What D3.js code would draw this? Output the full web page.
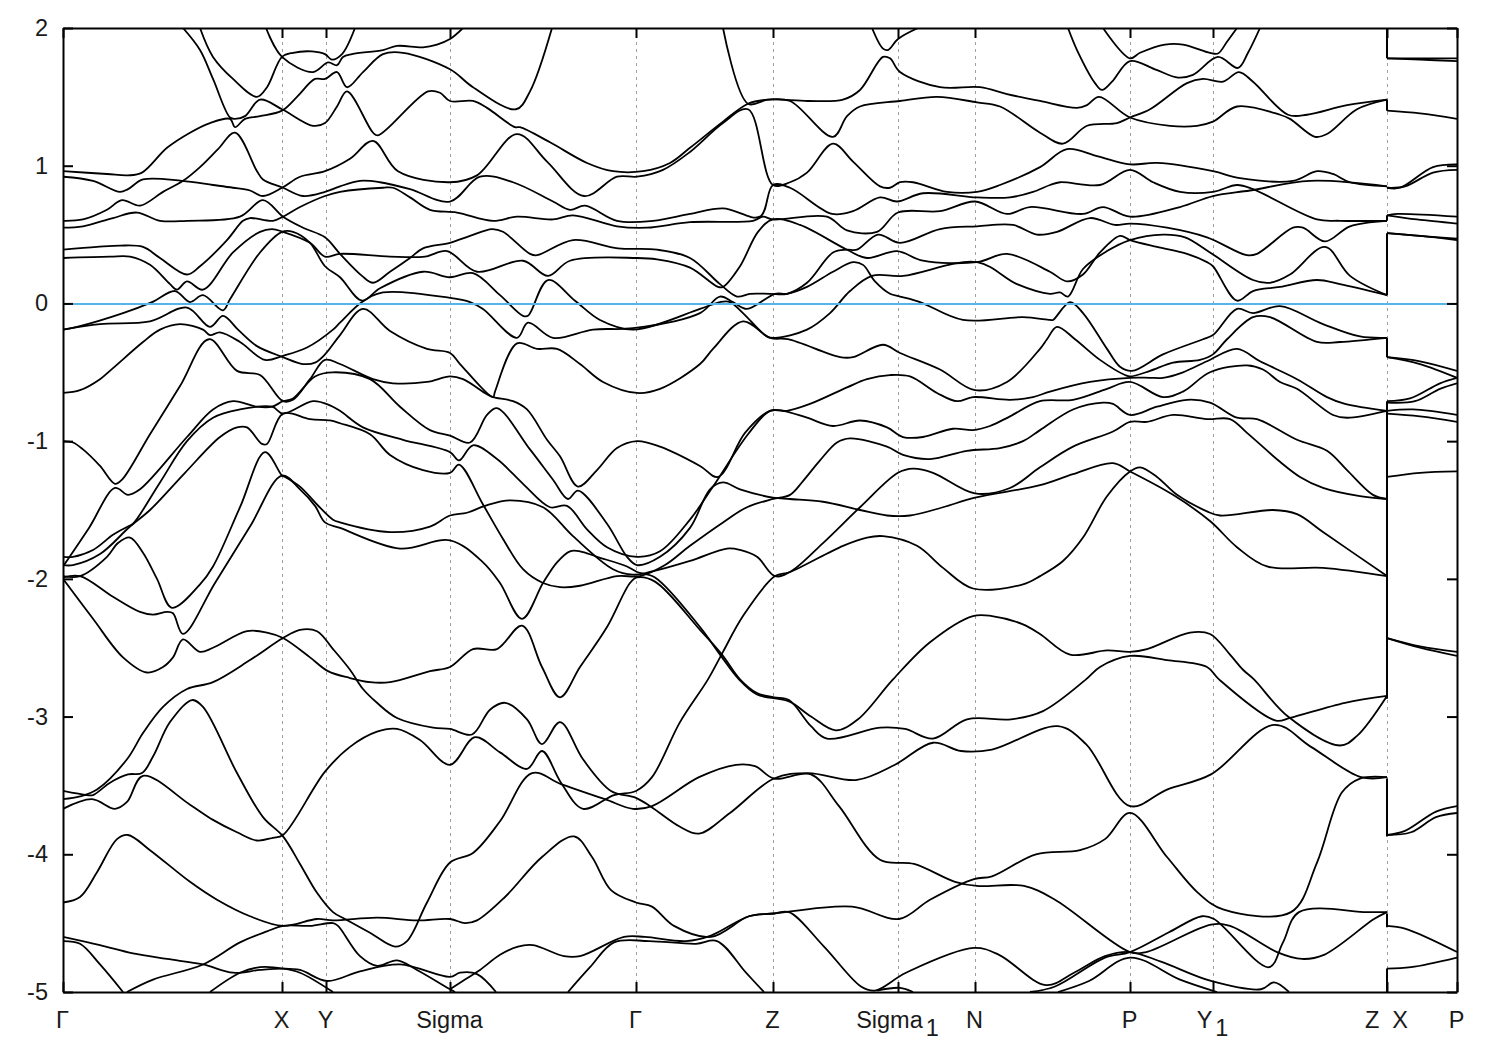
<!DOCTYPE html>
<html><head><meta charset="utf-8">
<script src="https://cdn.jsdelivr.net/npm/d3@7"></script>
<style>html,body{margin:0;padding:0;background:#fff}svg{display:block}text{font-family:"Liberation Sans",Arial,sans-serif;fill:#1a1a1a}</style>
</head><body><div id="c"></div>
<script>
// path coordinate (k) and energy (E) of every band strand
const symK=[63,282,326,450,636,773,898,975,1130,1213,1387,1457];
const xTickLabels=["Γ","X","Y","Sigma","Γ","Z","Sigma","N","P","Y","Z\u00a0\u00a0X","P"];
const xTickSubs=["","","","","","","1","","","1","",""];
const yTicks=[-5,-4,-3,-2,-1,0,1,2];
const fermiLevel=0;
// energies on each side of the vertical steps at the last Z / X point
const zStepK=1387;
const zSteps=[[2,1.78],[1.48,1.40],[0.60,0.64],[0.51,0.06],[-0.25,-0.39],[-0.71,-2.87],[-3.45,-3.87],[-4.43,-4.53],[-4.83,-5]];

const b01=[[183,2],[200,1.84],[213,1.63],[230,1.35],[235,1.34],[245,1.36],[260,1.48],[282,1.41],[313,1.29],[325,1.31],[337,1.43],[347,1.54],[373,1.24],[378,1.22],[428,1.54],[440,1.53],[450,1.47],[473,1.47],[487,1.42],[515,1.28],[520,1.28],[550,1.17],[587,1.02],[613,.96],[643,.96],[670,1.02],[690,1.13],[723,1.32],[748,1.45],[768,1.48],[808,1.47],[843,1.48],[860,1.55],[883,1.79],[890,1.78],[900,1.68],[940,1.57],[980,1.57],[1007,1.52],[1040,1.47],[1077,1.42],[1087,1.44],[1099,1.5],[1130,1.35],[1170,1.29],[1197,1.29],[1213,1.32],[1237,1.43],[1280,1.37],[1290,1.34],[1315,1.21],[1327,1.23],[1357,1.41],[1387,1.48]];
const b02=[[200,2],[213,1.79],[233,1.63],[257,1.5],[267,1.57],[282,1.79],[293,1.82],[312,1.83],[325,1.81],[332,1.77],[342,1.81],[355,2]];
const b03=[[266,2],[282,1.79],[313,1.68],[328,1.75],[337,1.73],[343,1.79],[352,1.81],[383,1.84],[397,1.87],[423,1.86],[437,1.88],[450,1.92],[463,2]];
const b04=[[63,.96],[107,.94],[128,.93],[142,.95],[167,1.13],[190,1.24],[210,1.31],[230,1.34],[235,1.28],[245,1.34],[260,1.36],[282,1.4],[297,1.5],[315,1.63],[325,1.63],[337,1.68],[347,1.57],[363,1.68],[383,1.81],[403,1.82],[450,1.7],[473,1.57],[516,1.41],[530,1.54],[552,2]];
const b05=[[63,.92],[93,.89],[120,.81],[128,.83],[143,.9],[182,.89],[213,.86],[233,.84],[250,.82],[263,.78],[282,.84],[300,.92],[325,.96],[350,1.05],[373,1.18],[398,.96],[450,.88],[477,.93],[517,1.23],[547,1.03],[584,.78],[617,.92],[637,.92],[663,.97],[690,1.1],[723,1.31],[748,1.41],[773,.86],[790,.88],[807,.95],[833,1.16],[853,1.03],[880,.85],[890,.84],[900,.88],[913,.88],[947,.81],[977,.81],[1000,.86],[1040,.99],[1067,1.12],[1097,1.07],[1130,1.01],[1157,1.02],[1213,.96],[1240,.91],[1293,.89],[1317,.96],[1333,.94],[1350,.88],[1387,.85]];
const b06=[[723,2],[748,1.45],[768,1.48],[790,1.47],[833,1.21],[847,1.36],[860,1.43],[900,1.47],[937,1.5],[977,1.46],[1000,1.43],[1040,1.24],[1063,1.16],[1087,1.29],[1117,1.31],[1130,1.35],[1150,1.41],[1187,1.6],[1203,1.63],[1223,1.61],[1239,1.68],[1253,1.61],[1288,1.37],[1307,1.37],[1347,1.44],[1387,1.48]];
const b07=[[1068,2],[1077,1.84],[1095,1.6],[1102,1.55],[1112,1.61],[1130,1.76],[1155,1.7],[1178,1.64],[1193,1.66],[1218,1.79],[1238,1.71],[1248,1.82],[1260,2]];
const b08=[[1103,2],[1130,1.78],[1140,1.82],[1165,1.88],[1183,1.88],[1210,1.82],[1218,1.815],[1227,1.9],[1237,2]];
const b09=[[872,2],[883,1.85],[888,1.84],[898,1.92],[918,2]];
const b10=[[63,.6],[83,.61],[107,.68],[122,.75],[140,.71],[163,.81],[183,.89],[200,.99],[218,1.12],[235,1.24],[257,.96],[263,.9],[283,.84],[303,.78],[325,.81],[340,.85],[360,.89],[380,.88],[410,.83],[450,.74],[480,.92],[513,.88],[553,.74],[570,.68],[585,.71],[617,.6],[653,.6],[690,.65],[723,.69],[760,.63],[773,.86],[790,.84],[832,.65],[853,.67],[880,.77],[897,.74],[923,.8],[977,.77],[1010,.77],[1033,.81],[1050,.86],[1060,.88],[1100,.86],[1130,.97],[1153,.88],[1180,.81],[1213,.81],[1237,.86],[1253,.83],[1317,.61],[1340,.6],[1387,.6]];
const b11=[[63,.39],[97,.41],[120,.42],[143,.41],[160,.33],[187,.21],[200,.27],[227,.46],[243,.6],[250,.62],[273,.6],[283,.63],[300,.7],[325,.78],[340,.81],[383,.84],[393,.84],[410,.77],[430,.68],[457,.66],[493,.6],[517,.63],[553,.61],[573,.64],[617,.56],[647,.55],[690,.59],[753,.6],[763,.63],[773,.61],[827,.63],[847,.53],[877,.52],[898,.66],[940,.67],[975,.74],[1007,.65],[1030,.7],[1083,.65],[1103,.7],[1130,.63],[1180,.7],[1213,.78],[1250,.82],[1310,.89],[1387,.85]];
const b12=[[63,.55],[83,.56],[113,.62],[137,.66],[160,.6],[187,.6],[240,.63],[263,.75],[283,.63],[303,.55],[325,.48],[340,.36],[362,.2],[373,.15],[390,.23],[410,.33],[423,.4],[450,.44],[470,.49],[492,.54],[503,.52],[530,.36],[537,.35],[573,.46],[618,.4],[657,.39],[690,.33],[720,.14],[737,.05],[750,.07],[770,.07],[787,.07],[807,.15],[833,.37],[847,.39],[857,.39],[878,.5],[900,.44],[940,.54],[977,.56],[1013,.57],[1037,.5],[1057,.52],[1090,.62],[1115,.57],[1130,.58],[1167,.55],[1207,.48],[1247,.35],[1257,.36],[1293,.55],[1303,.55],[1325,.45],[1350,.56],[1387,.6]];
const b13=[[63,.33],[110,.34],[130,.34],[150,.28],[170,.14],[177,.1],[187,.16],[203,.1],[233,.37],[260,.52],[272,.54],[283,.52],[310,.44],[325,.34],[340,.36],[390,.34],[425,.34],[447,.38],[477,.23],[523,.31],[548,.2],[570,.31],[637,.33],[657,.32],[690,.26],[718,.12],[723,.12],[740,.27],[758,.52],[773,.61],[800,.57],[847,.39],[867,.33],[897,.38],[923,.31],[977,.3],[1007,.36],[1050,.23],[1067,.16],[1083,.21],[1100,.37],[1120,.49],[1130,.46],[1157,.41],[1187,.36],[1207,.3],[1213,.27],[1237,.02],[1253,.09],[1280,.12],[1317,.17],[1340,.14],[1387,.06]];
const b14=[[63,-.19],[77,-.17],[123,-.07],[152,.01],[175,.09],[190,.01],[203,.06],[223,-.05],[230,.03],[260,.37],[282,.52],[293,.52],[310,.44],[325,.27],[340,.19],[362,.02],[380,.11],[423,.23],[450,.19],[473,.22],[500,.06],[523,-.09],[528,-.09],[548,.17],[575,.02],[600,-.12],[633,-.19],[700,-.04],[720,.01],[730,.01],[743,-.07],[767,-.24],[775,-.25],[807,-.19],[830,-.07],[850,.09],[872,.2],[903,.2],[977,.3],[1017,.14],[1050,.07],[1060,.08],[1068,.05],[1083,.25],[1107,.38],[1130,.46],[1163,.5],[1185,.48],[1210,.37],[1253,.17],[1270,.15],[1290,.21],[1325,.41],[1350,.2],[1387,.06]];
const b15=[[63,-.65],[80,-.63],[100,-.55],[113,-.47],[143,-.28],[160,-.19],[180,-.15],[203,-.19],[210,-.23],[220,-.21],[240,-.28],[265,-.41],[283,-.38],[307,-.32],[333,-.19],[340,-.14],[362,.01],[383,.08],[450,.04],[470,.01],[483,-.04],[517,-.25],[528,-.14],[553,-.25],[593,-.19],[633,-.18],[700,-.07],[720,.05],[733,.01],[747,-.04],[775,.07],[787,.07],[807,.12],[833,.23],[853,.3],[863,.28],[875,.16],[890,.07],[900,.05],[920,.01],[963,-.12],[1023,-.1],[1050,-.12],[1053,-.12],[1070,.01],[1083,-.07],[1107,-.33],[1120,-.46],[1132,-.49],[1163,-.37],[1203,-.26],[1213,-.23],[1237,-.04],[1253,-.07],[1280,-.02],[1323,-.15],[1360,-.24],[1387,-.25]];
const b16=[[63,-.19],[100,-.15],[150,-.13],[187,-.03],[210,-.17],[223,-.09],[238,-.19],[257,-.31],[283,-.39],[303,-.44],[315,-.43],[325,-.37],[340,-.23],[363,-.04],[390,-.2],[427,-.33],[450,-.36],[460,-.44],[493,-.68],[495,-.64],[517,-.29],[537,-.33],[557,-.33],[580,-.44],[603,-.57],[637,-.65],[660,-.62],[700,-.44],[713,-.33],[743,-.13],[770,-.25],[788,-.26],[840,-.39],[853,-.39],[883,-.3],[900,-.36],[940,-.48],[975,-.63],[1007,-.57],[1040,-.33],[1047,-.26],[1057,-.17],[1075,-.26],[1100,-.41],[1125,-.52],[1130,-.53],[1150,-.49],[1173,-.43],[1200,-.41],[1213,-.37],[1227,-.26],[1253,-.1],[1270,-.1],[1317,-.28],[1340,-.28],[1387,-.25]];
const b17=[[63,-1],[73,-1.01],[83,-1.06],[100,-1.18],[115,-1.31],[122,-1.28],[150,-.95],[180,-.6],[209,-.26],[237,-.49],[260,-.52],[283,-.71],[293,-.7],[310,-.55],[325,-.41],[340,-.44],[373,-.55],[393,-.58],[427,-.57],[450,-.53],[463,-.55],[487,-.66],[493,-.68],[513,-.71],[527,-.77],[547,-.99],[560,-1.11],[578,-1.33],[597,-1.21],[617,-1.05],[637,-1],[660,-1.04],[700,-1.18],[718,-1.26],[745,-.94],[770,-.78],[783,-.78],[807,-.83],[833,-.89],[860,-.85],[887,-.9],[903,-.97],[923,-.97],[953,-.91],[973,-.92],[990,-.89],[1010,-.82],[1040,-.71],[1073,-.7],[1107,-.62],[1130,-.57],[1163,-.68],[1183,-.64],[1210,-.5],[1247,-.45],[1263,-.48],[1280,-.57],[1297,-.62],[1333,-.81],[1347,-.83],[1387,-.78]];
const b18=[[63,-1.91],[89,-1.63],[115,-1.34],[128,-1.39],[140,-1.35],[187,-.97],[213,-.77],[233,-.71],[257,-.75],[272,-.75],[283,-.71],[293,-.69],[315,-.53],[333,-.5],[370,-.55],[400,-.75],[430,-.92],[450,-.96],[470,-1.01],[487,-.81],[497,-.76],[530,-1.06],[553,-1.28],[568,-1.42],[578,-1.36],[607,-1.6],[627,-1.84],[637,-1.9],[660,-1.84],[690,-1.63],[710,-1.35],[723,-1.3],[740,-1.35],[773,-1.41],[790,-1.42],[823,-1.44],[860,-1.5],[887,-1.54],[910,-1.54],[943,-1.48],[975,-1.41],[1040,-1.32],[1073,-1.24],[1113,-1.16],[1130,-1.22],[1173,-1.39],[1210,-1.58],[1237,-1.77],[1267,-1.91],[1323,-1.92],[1387,-1.98]];
const b19=[[63,-1.84],[73,-1.84],[93,-1.79],[113,-1.68],[128,-1.62],[133,-1.6],[160,-1.3],[187,-1],[213,-.83],[240,-.77],[272,-.75],[283,-.8],[313,-.71],[330,-.74],[340,-.78],[363,-.9],[403,-.99],[450,-1.08],[459,-1.14],[473,-1.03],[497,-1.13],[523,-1.31],[550,-1.48],[567,-1.47],[587,-1.64],[607,-1.77],[637,-1.84],[660,-1.8],[690,-1.57],[713,-1.33],[748,-.95],[770,-.78],[787,-.78],[810,-.73],[847,-.61],[867,-.55],[890,-.52],[910,-.53],[937,-.65],[957,-.71],[973,-.68],[1010,-.7],[1033,-.68],[1050,-.64],[1090,-.57],[1130,-.54],[1150,-.54],[1163,-.54],[1183,-.5],[1207,-.42],[1237,-.33],[1260,-.42],[1297,-.55],[1327,-.68],[1345,-.73],[1387,-.78]];
const b20=[[63,-1.9],[73,-1.9],[100,-1.82],[130,-1.62],[150,-1.5],[185,-1.23],[220,-.97],[237,-.9],[247,-.9],[262,-1.02],[267,-1.02],[283,-.8],[310,-.84],[330,-.85],[340,-.87],[370,-.95],[390,-1.1],[423,-1.21],[450,-1.23],[459,-1.17],[483,-1.46],[503,-1.71],[523,-1.93],[543,-2.03],[560,-2.06],[580,-2.05],[617,-1.98],[640,-1.98],[665,-1.9],[690,-1.76],[723,-1.59],[747,-1.48],[773,-1.42],[790,-1.39],[803,-1.29],[820,-1.14],[837,-1.01],[850,-.98],[887,-1.04],[903,-1.1],[930,-1.13],[967,-1.07],[1000,-1.05],[1023,-1],[1040,-.92],[1073,-.77],[1103,-.72],[1113,-.73],[1130,-.81],[1157,-.75],[1187,-.7],[1210,-.72],[1237,-.83],[1257,-.84],[1297,-.99],[1327,-1.07],[1347,-1.21],[1373,-1.39],[1387,-1.42]];
const b21=[[63,-1.98],[80,-1.98],[107,-1.84],[118,-1.74],[130,-1.7],[143,-1.81],[157,-2],[172,-2.21],[200,-2.04],[213,-1.91],[240,-1.48],[265,-1.08],[282,-1.25],[285,-1.26],[300,-1.33],[317,-1.46],[333,-1.57],[340,-1.59],[390,-1.66],[430,-1.62],[450,-1.54],[467,-1.52],[485,-1.47],[510,-1.43],[543,-1.48],[573,-1.69],[613,-1.93],[633,-1.97],[650,-1.95],[690,-1.87],[727,-1.78],[740,-1.79],[757,-1.84],[775,-1.98],[790,-1.95],[823,-1.74],[860,-1.48],[898,-1.23],[913,-1.2],[933,-1.23],[975,-1.38],[1010,-1.34],[1040,-1.19],[1073,-1.04],[1113,-.93],[1130,-.86],[1147,-.86],[1173,-.81],[1207,-.84],[1230,-.84],[1247,-.94],[1280,-1.15],[1300,-1.26],[1323,-1.34],[1360,-1.4],[1387,-1.42]];
const b22=[[63,-1.99],[80,-1.98],[113,-2.13],[140,-2.24],[153,-2.26],[167,-2.24],[173,-2.25],[183,-2.4],[215,-2.03],[250,-1.62],[282,-1.25],[300,-1.35],[315,-1.47],[325,-1.59],[340,-1.63],[400,-1.78],[450,-1.72],[483,-1.88],[500,-2.03],[522,-2.29],[543,-2.03],[557,-1.88],[570,-1.8],[580,-1.8],[597,-1.84],[627,-1.91],[637,-1.95],[655,-1.99],[700,-2.35],[720,-2.55],[739,-2.73],[757,-2.84],[789,-2.89],[811,-3],[836,-3.1],[858,-3.02],[893,-2.73],[930,-2.46],[973,-2.27],[992,-2.27],[1023,-2.33],[1040,-2.4],[1070,-2.55],[1107,-2.52],[1130,-2.53],[1147,-2.51],[1190,-2.39],[1210,-2.4],[1230,-2.55],[1243,-2.66],[1254,-2.73],[1288,-3],[1340,-3.21],[1357,-3.14],[1387,-2.85]];
const b23=[[63,-2],[93,-2.29],[123,-2.57],[147,-2.68],[163,-2.64],[173,-2.57],[183,-2.44],[200,-2.53],[213,-2.5],[247,-2.38],[267,-2.39],[283,-2.43],[310,-2.57],[328,-2.67],[350,-2.72],[370,-2.75],[390,-2.75],[430,-2.67],[450,-2.64],[473,-2.51],[497,-2.51],[522,-2.34],[542,-2.64],[560,-2.86],[580,-2.64],[607,-2.35],[630,-2.03],[637,-1.99],[655,-2.02],[700,-2.37],[722,-2.55],[740,-2.73],[757,-2.83],[774,-2.86],[789,-2.88],[811,-3.07],[827,-3.16],[880,-3.08],[905,-3.09],[933,-3.16],[967,-3.02],[1011,-3.02],[1043,-2.96],[1086,-2.73],[1100,-2.64],[1130,-2.56],[1167,-2.59],[1207,-2.64],[1219,-2.73],[1276,-3.03],[1290,-3.01],[1345,-2.9],[1387,-2.85]];
const b24=[[63,-3.6],[80,-3.58],[97,-3.53],[127,-3.31],[143,-3.12],[163,-2.93],[187,-2.8],[213,-2.75],[250,-2.59],[283,-2.43],[300,-2.37],[317,-2.38],[333,-2.51],[350,-2.66],[363,-2.8],[377,-2.9],[397,-3.01],[433,-3.08],[450,-3.09],[472,-3.13],[490,-2.95],[505,-2.9],[527,-3.02],[542,-3.2],[560,-3.04],[583,-3.31],[611,-3.54],[636,-3.59],[652,-3.66],[680,-3.8],[699,-3.85],[730,-3.7],[774,-3.45],[808,-3.41],[857,-3.46],[895,-3.35],[933,-3.19],[961,-3.25],[992,-3.24],[1058,-3.07],[1086,-3.2],[1130,-3.65],[1167,-3.53],[1211,-3.42],[1274,-3.06],[1311,-3.22],[1361,-3.44],[1387,-3.44]];
const b25=[[63,-3.67],[92,-3.6],[115,-3.67],[127,-3.62],[143,-3.43],[190,-3.64],[213,-3.75],[237,-3.84],[257,-3.9],[273,-3.88],[283,-3.86],[325,-3.4],[350,-3.22],[377,-3.11],[397,-3.09],[420,-3.17],[450,-3.35],[475,-3.15],[500,-3.26],[527,-3.38],[542,-3.25],[561,-3.48],[583,-3.67],[614,-3.57],[636,-3.54],[652,-3.44],[680,-3.04],[708,-2.73],[723,-2.53],[743,-2.27],[775,-1.98],[790,-1.95],[843,-1.76],[867,-1.7],[883,-1.69],[917,-1.76],[943,-1.92],[973,-2.07],[1023,-2.04],[1040,-1.98],[1063,-1.87],[1083,-1.7],[1107,-1.4],[1130,-1.22],[1140,-1.19],[1157,-1.26],[1177,-1.39],[1207,-1.51],[1220,-1.54],[1273,-1.5],[1297,-1.53],[1323,-1.66],[1387,-1.98]];
const b26=[[63,-3.54],[87,-3.57],[93,-3.57],[110,-3.48],[128,-3.42],[142,-3.41],[153,-3.29],[170,-3.04],[192,-2.88],[203,-2.93],[237,-3.41],[263,-3.73],[283,-3.87],[300,-4.07],[317,-4.28],[333,-4.42],[345,-4.47],[370,-4.57],[395,-4.67],[407,-4.63],[427,-4.35],[450,-4.06],[473,-3.99],[500,-3.76],[532,-3.41],[561,-3.49],[605,-3.6],[633,-3.67],[652,-3.65],[699,-3.44],[736,-3.35],[755,-3.36],[774,-3.45],[811,-3.42],[839,-3.65],[880,-4.04],[914,-4.07],[955,-4.2],[977,-4.23],[1024,-4.23],[1055,-4.33],[1130,-4.71],[1146,-4.71],[1211,-4.51],[1230,-4.52],[1277,-4.71],[1302,-4.76],[1324,-4.73],[1374,-4.47],[1387,-4.42]];
const b27=[[63,-4.35],[80,-4.31],[97,-4.13],[117,-3.89],[128,-3.86],[150,-3.97],[190,-4.2],[217,-4.33],[250,-4.45],[283,-4.52],[317,-4.47],[333,-4.48],[377,-4.46],[417,-4.48],[450,-4.47],[465,-4.5],[477,-4.48],[505,-4.31],[542,-4.02],[574,-3.87],[592,-4.02],[611,-4.26],[636,-4.35],[652,-4.38],[674,-4.52],[711,-4.6],[749,-4.45],[774,-4.43],[852,-4.38],[899,-4.47],[930,-4.33],[974,-4.18],[992,-4.16],[1036,-4],[1080,-3.97],[1105,-3.89],[1130,-3.7],[1167,-4.02],[1198,-4.28],[1223,-4.4],[1291,-4.42],[1317,-4.06],[1342,-3.55],[1360,-3.45],[1387,-3.44]];
const b28=[[63,-4.6],[100,-4.66],[133,-4.72],[167,-4.76],[203,-4.8],[233,-4.86],[260,-4.84],[283,-4.83],[300,-4.84],[327,-4.92],[360,-4.85],[400,-4.8],[450,-4.89],[460,-4.86],[477,-4.87],[496,-5]];
const b29=[[63,-4.63],[80,-4.65],[100,-4.8],[123,-5]];
const b30=[[127,-5],[153,-4.91],[203,-4.8],[240,-4.64],[267,-4.56],[283,-4.52],[310,-4.52],[333,-4.5],[338,-4.52],[360,-4.74],[377,-4.81],[397,-4.77],[417,-4.84],[450,-4.98],[455,-5]];
const b31=[[210,-5],[240,-4.86],[260,-4.82],[283,-4.83],[300,-4.86],[333,-5]];
const b32=[[450,-4.98],[465,-4.91],[480,-4.84],[500,-4.73],[518,-4.67],[533,-4.66],[564,-4.74],[580,-4.74],[624,-4.6],[645,-4.6],[686,-4.63],[711,-4.59],[749,-4.45],[774,-4.43],[789,-4.42],[824,-4.67],[861,-4.96],[875,-4.99],[906,-4.86],[974,-4.68],[999,-4.73],[1046,-4.95],[1074,-4.86],[1105,-4.74],[1130,-4.71],[1161,-4.78],[1211,-4.92],[1261,-4.98],[1274,-4.93],[1289,-5]];
const b33=[[568,-5],[590,-4.82],[614,-4.64],[649,-4.63],[696,-4.65],[717,-4.63],[746,-4.86],[764,-5]];
const b34=[[1030,-5],[1055,-4.96],[1105,-4.75],[1130,-4.71],[1168,-4.57],[1202,-4.45],[1214,-4.47],[1269,-4.82],[1283,-4.64],[1299,-4.42],[1367,-4.42],[1387,-4.42]];
const b35=[[1058,-5],[1089,-4.92],[1130,-4.75],[1180,-4.91],[1217,-5]];
const b36=[[877,-4.99],[900,-4.97],[913,-5]];
// the short X to P section
const p01=[[1387,1.78],[1457,1.78]];
const p02=[[1387,1.78],[1420,1.77],[1457,1.76]];
const p03=[[1387,1.4],[1420,1.38],[1457,1.34]];
const p04=[[1387,.84],[1400,.84],[1433,.99],[1457,1.01]];
const p05=[[1387,.84],[1405,.85],[1433,.95],[1457,.97]];
const p06=[[1387,.64],[1397,.65],[1457,.63]];
const p07=[[1387,.64],[1417,.61],[1457,.58]];
const p08=[[1387,.51],[1420,.49],[1457,.47]];
const p09=[[1387,.51],[1420,.49],[1457,.46]];
const p10=[[1387,-.39],[1420,-.42],[1457,-.49]];
const p11=[[1387,-.39],[1420,-.44],[1457,-.54]];
const p12=[[1387,-.71],[1410,-.69],[1440,-.58],[1457,-.54]];
const p13=[[1387,-.72],[1415,-.71],[1440,-.62],[1457,-.58]];
const p14=[[1387,-.78],[1413,-.77],[1457,-.81]];
const p15=[[1387,-.8],[1420,-.82],[1457,-.86]];
const p16=[[1387,-1.26],[1420,-1.23],[1457,-1.22]];
const p17=[[1387,-2.43],[1420,-2.49],[1457,-2.53]];
const p18=[[1387,-2.43],[1420,-2.5],[1457,-2.56]];
const p19=[[1387,-3.86],[1405,-3.83],[1436,-3.69],[1457,-3.65]];
const p20=[[1387,-3.86],[1411,-3.84],[1436,-3.73],[1457,-3.7]];
const p21=[[1387,-4.52],[1405,-4.54],[1457,-4.71]];
const p22=[[1387,-4.83],[1411,-4.82],[1457,-4.75]];

const bands=[b01,b02,b03,b04,b05,b06,b07,b08,b09,b10,b11,b12,b13,b14,b15,b16,b17,b18,b19,b20,b21,b22,b23,b24,b25,b26,b27,b28,b29,b30,b31,b32,b33,b34,b35,b36,p01,p02,p03,p04,p05,p06,p07,p08,p09,p10,p11,p12,p13,p14,p15,p16,p17,p18,p19,p20,p21,p22];

const W=1500,H=1050,L=63,R=1457,T=28,B=992;
const svg=d3.select('#c').append('svg').attr('width',W).attr('height',H);
const x=d3.scaleLinear().domain([63,1457]).range([L,R]);
const y=d3.scaleLinear().domain([-5,2]).range([B,T]);
svg.append('defs').append('clipPath').attr('id','pl').append('rect').attr('x',L).attr('y',T).attr('width',R-L).attr('height',B-T);

// dashed symmetry lines
svg.append('g').attr('shape-rendering','crispEdges').selectAll('line').data(symK.slice(1,-1)).join('line')
  .attr('x1',d=>x(d)+.5).attr('x2',d=>x(d)+.5).attr('y1',T).attr('y2',B)
  .attr('stroke','#a0a0a0').attr('stroke-width',1).attr('stroke-dasharray','3,4');

const line=d3.line().x(d=>x(d[0])).y(d=>y(d[1])).curve(d3.curveCatmullRom.alpha(0.5));
const g=svg.append('g').attr('clip-path','url(#pl)');
g.selectAll('path').data(bands).join('path').attr('d',line).attr('fill','none').attr('stroke','#000').attr('stroke-width',1.8).attr('stroke-linejoin','round');
g.selectAll('line.step').data(zSteps).join('line').attr('class','step')
  .attr('x1',x(zStepK)).attr('x2',x(zStepK)).attr('y1',d=>y(d[0])).attr('y2',d=>y(d[1]))
  .attr('stroke','#000').attr('stroke-width',2);
svg.append('line').attr('x1',L).attr('x2',R).attr('y1',y(fermiLevel)+.4).attr('y2',y(fermiLevel)+.4).attr('stroke','#56b4e9').attr('stroke-width',2).attr('shape-rendering','crispEdges');

function style(a){a.selectAll('.domain').attr('stroke','#000').attr('stroke-width',2);a.selectAll('.tick line').attr('stroke','#000').attr('stroke-width',2);}
const ax=(gen,tx,ty)=>svg.append('g').attr('transform',`translate(${tx},${ty})`).call(gen).call(style);
const left=ax(d3.axisLeft(y).tickValues(yTicks).tickSize(-10).tickFormat(d3.format('d')).tickSizeOuter(0),L,0);
ax(d3.axisRight(y).tickValues(yTicks).tickSize(-10).tickFormat('').tickSizeOuter(0),R,0);
ax(d3.axisTop(x).tickValues(symK).tickSize(-10).tickFormat('').tickSizeOuter(0),0,T);
const bottom=ax(d3.axisBottom(x).tickValues(symK).tickSize(-10).tickFormat((d,i)=>xTickLabels[i]).tickSizeOuter(0),0,B);

left.selectAll('text').attr('x',-15).attr('font-size',23.5).attr('font-family','Liberation Sans').attr('fill','#1a1a1a').text(d=>String(d));
bottom.selectAll('.tick text').attr('y',36).attr('dy',0).attr('dx',-1).attr('font-size',23.5)
  .attr('font-family',(d,i)=>xTickLabels[i]==='Γ'?'Liberation Serif':'Liberation Sans').attr('fill','#1a1a1a')
  .each(function(d,i){
    if(!xTickSubs[i])return;
    d3.select(this).append('tspan').attr('dx',3).attr('dy',8).text(xTickSubs[i]);
  });
</script></body></html>
